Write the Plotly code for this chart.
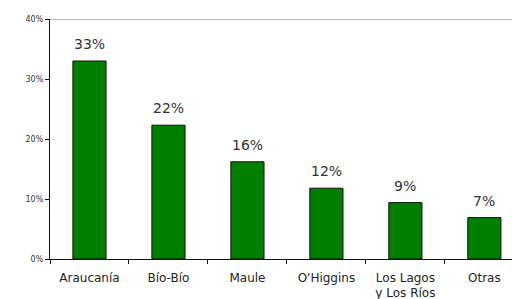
import plotly.graph_objects as go

categories = ["Araucanía", "Bío-Bío", "Maule", "O'Higgins", "Los Lagos<br>y Los Ríos", "Otras"]
values = [33.0, 22.3, 16.2, 11.8, 9.4, 6.9]
labels = ["33%", "22%", "16%", "12%", "9%", "7%"]
y_ticks = [0, 10, 20, 30, 40]
y_tick_text = ["0%", "10%", "20%", "30%", "40%"]

fig = go.Figure()
fig.add_trace(go.Bar(
    x=categories, y=values, width=0.42,
    marker=dict(color="#007F00", line=dict(color="#111111", width=1)),
    showlegend=False, hoverinfo="skip",
))
for c, v, t in zip(categories, values, labels):
    fig.add_annotation(x=c, y=v, text=t, showarrow=False, yanchor="bottom",
                       yshift=7, font=dict(family="DejaVu Sans", size=14, color="#333333"))

fig.add_shape(type="line", xref="paper", yref="y", x0=0, x1=1, y0=40, y1=40,
              line=dict(color="#A0A0A0", width=1.5), layer="above")

fig.update_layout(
    width=512, height=299,
    margin=dict(l=50, r=0, t=19, b=40),
    plot_bgcolor="white", paper_bgcolor="white",
    xaxis=dict(range=[-0.5, 5.35], showline=True, linecolor="#111111", linewidth=1.2,
               ticks="outside", tickson="boundaries", ticklen=4, tickcolor="#111111",
               ticklabelstandoff=7,
               tickfont=dict(family="DejaVu Sans", size=12, color="#222222"),
               showgrid=False, fixedrange=True, automargin=False),
    yaxis=dict(range=[0, 40], tickvals=y_ticks, ticktext=y_tick_text,
               showline=True, linecolor="#111111", linewidth=1.2,
               ticks="outside", ticklen=4, tickcolor="#111111",
               tickfont=dict(family="DejaVu Sans", size=8, color="#333333"),
               showgrid=False, zeroline=False, fixedrange=True, automargin=False),
)
fig.write_html("out.html", config={"displayModeBar": False},
               post_script="document.body.style.margin='0';document.body.style.overflow='hidden';")
